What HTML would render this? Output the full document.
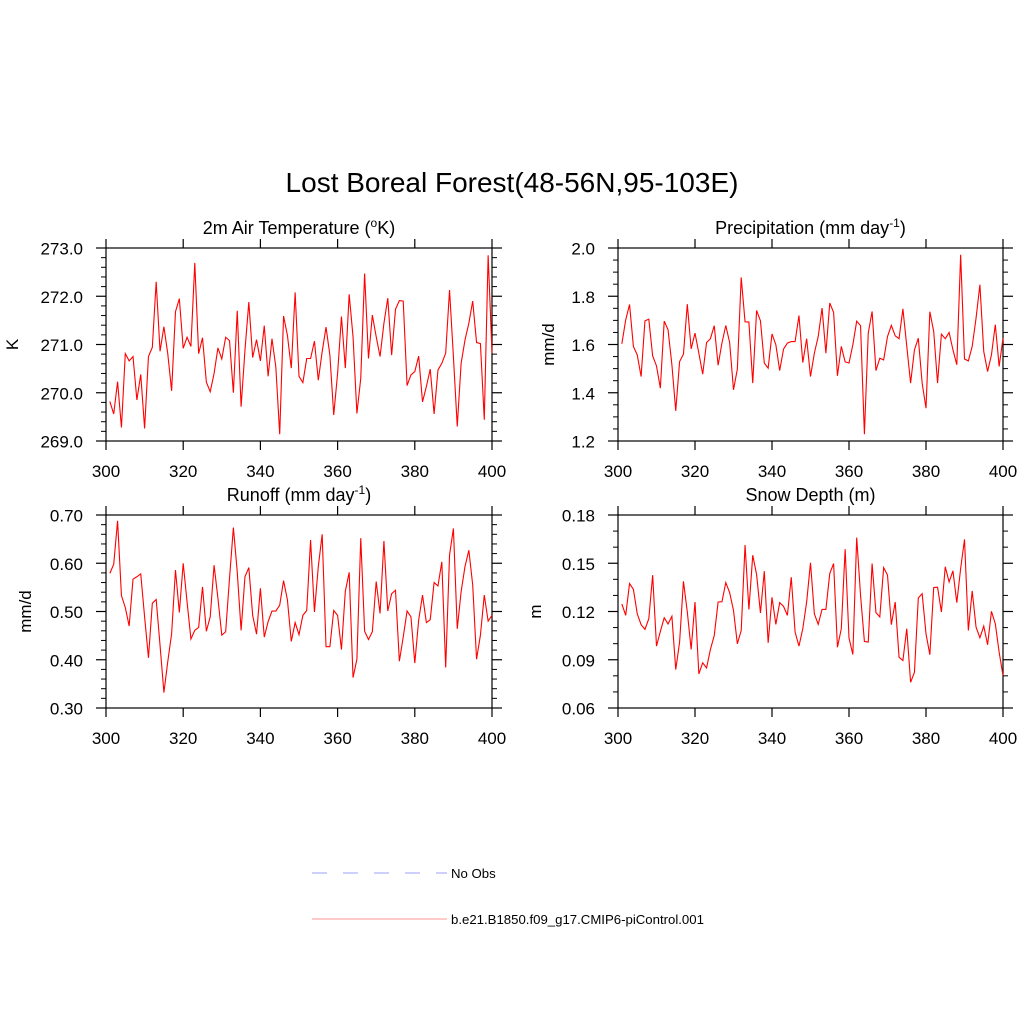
<!DOCTYPE html>
<html><head><meta charset="utf-8"><style>
html,body{margin:0;padding:0;background:#fff;}
svg{display:block;font-family:"Liberation Sans",sans-serif;}
</style></head><body>
<svg id="chart" width="1024" height="1024" viewBox="0 0 1024 1024">
<rect width="1024" height="1024" fill="#fff"/>
<text x="512" y="192" font-size="28" text-anchor="middle">Lost Boreal Forest(48-56N,95-103E)</text>
<g>
<line x1="312" y1="873" x2="447" y2="873" stroke="#b4b4ff" stroke-width="1.2" stroke-dasharray="15,16"/>
<text x="451" y="878" font-size="13.2">No Obs</text>
<line x1="312" y1="919" x2="447" y2="919" stroke="#ffaaaa" stroke-width="1.2"/>
<text x="451" y="924" font-size="13.2">b.e21.B1850.f09_g17.CMIP6-piControl.001</text>
</g>
</svg>
<script>
const years = [];
for (let y = 301; y <= 400; y++) years.push(y);
const xTicks = [300, 320, 340, 360, 380, 400];
const tempValues = [269.82,269.56,270.23,269.28,270.81,270.66,270.75,269.85,270.38,269.26,270.75,270.94,272.30,270.86,271.37,270.81,270.04,271.68,271.95,270.92,271.15,270.96,272.69,270.81,271.14,270.22,270.02,270.40,270.93,270.70,271.15,271.08,270.00,271.70,269.71,270.88,271.88,270.73,271.10,270.66,271.39,270.34,271.12,270.53,269.14,271.59,271.19,270.51,272.08,270.34,270.21,270.71,270.71,271.07,270.26,270.85,271.36,270.78,269.54,270.40,271.58,270.51,272.04,271.16,269.57,270.30,272.47,270.71,271.61,271.16,270.75,271.44,271.96,270.78,271.73,271.91,271.90,270.15,270.37,270.44,270.76,269.81,270.13,270.49,269.56,270.47,270.61,270.82,272.13,270.75,269.30,270.61,271.09,271.44,271.90,271.04,271.02,269.44,272.85,270.82];
const tempTicks = [269.0, 270.0, 271.0, 272.0, 273.0];
const precValues = [1.603,1.702,1.766,1.592,1.557,1.467,1.698,1.705,1.553,1.511,1.419,1.697,1.661,1.516,1.325,1.529,1.560,1.767,1.582,1.647,1.564,1.477,1.608,1.624,1.678,1.514,1.606,1.679,1.608,1.412,1.498,1.878,1.694,1.693,1.440,1.741,1.698,1.523,1.502,1.644,1.599,1.492,1.581,1.606,1.612,1.612,1.720,1.525,1.624,1.467,1.564,1.633,1.751,1.564,1.772,1.733,1.470,1.592,1.528,1.523,1.599,1.697,1.678,1.228,1.647,1.737,1.492,1.543,1.536,1.633,1.679,1.636,1.624,1.748,1.594,1.440,1.578,1.626,1.440,1.336,1.736,1.654,1.440,1.643,1.624,1.650,1.578,1.516,1.972,1.540,1.532,1.592,1.709,1.848,1.571,1.488,1.557,1.682,1.509,1.626];
const precTicks = [1.2, 1.4, 1.6, 1.8, 2.0];
const runoffValues = [0.579,0.598,0.688,0.533,0.508,0.470,0.567,0.572,0.578,0.489,0.404,0.517,0.525,0.430,0.332,0.396,0.454,0.586,0.498,0.600,0.520,0.443,0.461,0.467,0.551,0.459,0.489,0.596,0.527,0.451,0.458,0.569,0.674,0.582,0.461,0.572,0.591,0.492,0.453,0.548,0.447,0.479,0.501,0.501,0.513,0.564,0.524,0.438,0.477,0.452,0.492,0.502,0.648,0.499,0.593,0.660,0.427,0.427,0.502,0.492,0.421,0.542,0.581,0.363,0.401,0.652,0.459,0.442,0.458,0.562,0.496,0.646,0.501,0.537,0.544,0.397,0.447,0.501,0.489,0.393,0.482,0.534,0.477,0.483,0.560,0.553,0.603,0.384,0.617,0.672,0.464,0.541,0.593,0.627,0.555,0.401,0.451,0.534,0.480,0.492];
const runoffTicks = [0.30, 0.40, 0.50, 0.60, 0.70];
const snowValues = [0.1247,0.1176,0.1374,0.1338,0.1186,0.1118,0.1089,0.1155,0.1426,0.0985,0.1076,0.1161,0.1122,0.1170,0.0839,0.1010,0.1388,0.1197,0.0964,0.1259,0.0812,0.0881,0.0849,0.0964,0.1051,0.1259,0.1261,0.1380,0.1317,0.1207,0.0999,0.1082,0.1613,0.1213,0.1550,0.1430,0.1191,0.1451,0.1005,0.1288,0.1120,0.1255,0.1232,0.1176,0.1413,0.1072,0.0985,0.1093,0.1259,0.1503,0.1186,0.1120,0.1213,0.1213,0.1436,0.1498,0.0978,0.1093,0.1588,0.1035,0.0933,0.1659,0.1301,0.1014,0.1010,0.1498,0.1193,0.1166,0.1473,0.1426,0.1118,0.1259,0.0916,0.0895,0.1093,0.0760,0.0822,0.1284,0.1311,0.1062,0.0931,0.1349,0.1351,0.1197,0.1478,0.1384,0.1453,0.1255,0.1467,0.1648,0.1082,0.1328,0.1103,0.1037,0.1109,0.0993,0.1201,0.1124,0.0947,0.0802];
const snowTicks = [0.06, 0.09, 0.12, 0.15, 0.18];

const NS = "http://www.w3.org/2000/svg";
const svg = document.getElementById("chart");
function mk(tag, attrs, parent) {
  const e = document.createElementNS(NS, tag);
  for (const k in attrs) e.setAttribute(k, attrs[k]);
  parent.appendChild(e);
  return e;
}
function panel(cfg) {
  const g = mk("g", {}, svg);
  
  
  const L = cfg.x0, R = cfg.x1, T = cfg.y0, B = cfg.y1;
  const ymin = cfg.ticks[0], ymax = cfg.ticks[cfg.ticks.length - 1];
  const sx = v => L + (v - 300) / 100 * (R - L);
  const sy = v => B - (v - ymin) / (ymax - ymin) * (B - T);
  const step = cfg.ticks[1] - cfg.ticks[0];
  for (let i = 0; i < cfg.ticks.length - 1; i++) {
    for (let m = 1; m < cfg.minor; m++) {
      const yy = sy(cfg.ticks[i] + step * m / cfg.minor);
      const t1 = mk("line", {x1: L - 5, x2: L, y1: yy, y2: yy, stroke: "#000", "stroke-width": 1}, g);
      
      
      const t2 = mk("line", {x1: R, x2: R + 5, y1: yy, y2: yy, stroke: "#000", "stroke-width": 1}, g);
      
      
    }
  }
  cfg.ticks.forEach(v => {
    const yy = sy(v);
    const t1 = mk("line", {x1: L - 10, x2: L, y1: yy, y2: yy, stroke: "#000", "stroke-width": 1.2}, g);
    
    
    const t2 = mk("line", {x1: R, x2: R + 10, y1: yy, y2: yy, stroke: "#000", "stroke-width": 1.2}, g);
    
    
    const lb = mk("text", {x: L - 23, y: yy + 6.5, "font-size": 17, "text-anchor": "end"}, g);
    lb.textContent = v.toFixed(cfg.dec);
    
    
  });
  xTicks.forEach(v => {
    const xx = sx(v);
    const t1 = mk("line", {x1: xx, x2: xx, y1: B, y2: B + 9, stroke: "#000", "stroke-width": 1.2}, g);
    
    
    const t2 = mk("line", {x1: xx, x2: xx, y1: T - 9, y2: T, stroke: "#000", "stroke-width": 1.2}, g);
    
    
    const lb = mk("text", {x: xx, y: B + 36, "font-size": 17, "text-anchor": "middle"}, g);
    lb.textContent = String(v);
    
    
  });
  const fr = mk("rect", {x: L, y: T, width: R - L, height: B - T, fill: "none", stroke: "#000", "stroke-width": 1.2}, g);
  
  
  const pts = years.map((yr, i) => sx(yr).toFixed(2) + "," + sy(cfg.values[i]).toFixed(2)).join(" ");
  const ln = mk("polyline", {points: pts, fill: "none", stroke: "#ff0000", "stroke-width": 1.1, "stroke-linejoin": "miter"}, g);
  
  
  const ti = mk("text", {x: (L + R) / 2, y: T - 14, "font-size": 18, "text-anchor": "middle"}, g);
  ti.innerHTML = cfg.title;
  
  
  const yt = mk("text", {x: cfg.ytx, y: (T + B) / 2, "font-size": 17, "text-anchor": "middle", transform: "rotate(-90 " + cfg.ytx + " " + (T + B) / 2 + ")"}, g);
  yt.textContent = cfg.ylabel;
  
  
}
panel({name: "temperature-panel", x0: 106, x1: 492, y0: 248, y1: 441, ticks: tempTicks, minor: 5, dec: 1, values: tempValues,
  title: '2m Air Temperature (<tspan baseline-shift="super" font-size="12">o</tspan>K)', ylabel: "K", ytx: 18});
panel({name: "precipitation-panel", x0: 618, x1: 1003, y0: 248, y1: 441, ticks: precTicks, minor: 4, dec: 1, values: precValues,
  title: 'Precipitation (mm day<tspan baseline-shift="super" font-size="12">-1</tspan>)', ylabel: "mm/d", ytx: 554});
panel({name: "runoff-panel", x0: 106, x1: 492, y0: 515, y1: 708, ticks: runoffTicks, minor: 5, dec: 2, values: runoffValues,
  title: 'Runoff (mm day<tspan baseline-shift="super" font-size="12">-1</tspan>)', ylabel: "mm/d", ytx: 31});
panel({name: "snow-depth-panel", x0: 618, x1: 1003, y0: 515, y1: 708, ticks: snowTicks, minor: 3, dec: 2, values: snowValues,
  title: 'Snow Depth (m)', ylabel: "m", ytx: 541});
</script>
</body></html>
